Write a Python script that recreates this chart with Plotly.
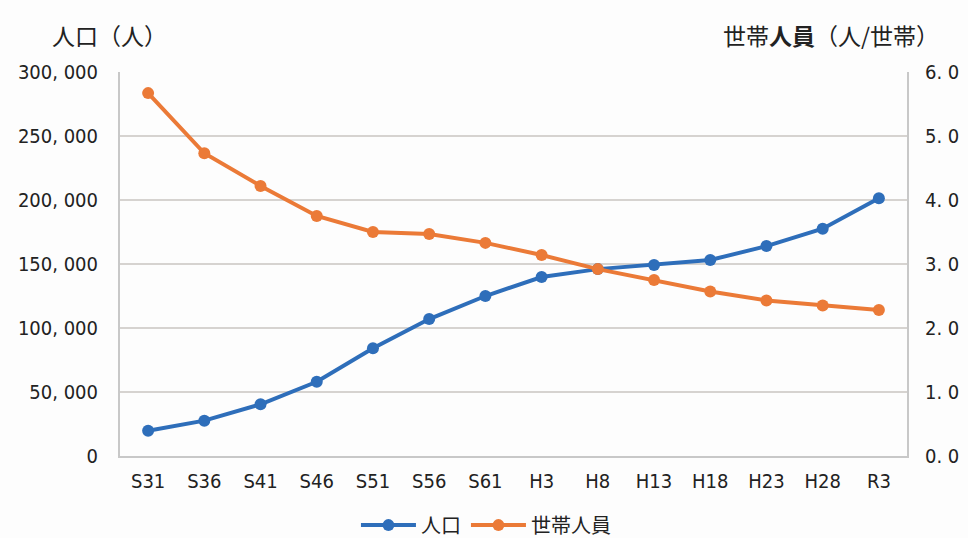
import plotly.graph_objects as go

categories = ["S31", "S36", "S41", "S46", "S51", "S56", "S61", "H3", "H8", "H13", "H18", "H23", "H28", "R3"]
population = [19800, 27600, 40400, 58000, 84100, 107000, 125000, 139800, 146000, 149200, 153100, 164000, 177600, 201300]
household = [5.67, 4.73, 4.22, 3.75, 3.50, 3.47, 3.33, 3.14, 2.92, 2.75, 2.57, 2.43, 2.35, 2.28]

left_ticks = [0, 50000, 100000, 150000, 200000, 250000, 300000]
left_labels = ["0", "50, 000", "100, 000", "150, 000", "200, 000", "250, 000", "300, 000"]
right_ticks = [0, 1, 2, 3, 4, 5, 6]
right_labels = ["0. 0", "1. 0", "2. 0", "3. 0", "4. 0", "5. 0", "6. 0"]

BLUE = "#2E6EBA"
ORANGE = "#EB7A37"
FONT = "DejaVu Sans Condensed, Liberation Sans Narrow, Noto Sans CJK JP, sans-serif"
JP = "Noto Sans CJK JP"

fig = go.Figure()
fig.add_trace(go.Scatter(
    x=categories, y=population, name="人口", mode="lines+markers",
    line=dict(color=BLUE, width=4), marker=dict(color=BLUE, size=12),
    yaxis="y"))
fig.add_trace(go.Scatter(
    x=categories, y=household, name="世帯人員", mode="lines+markers",
    line=dict(color=ORANGE, width=4), marker=dict(color=ORANGE, size=12),
    yaxis="y2"))

fig.update_layout(
    width=968, height=538,
    margin=dict(l=120, r=61, t=72, b=82, autoexpand=False),
    paper_bgcolor="#FDFDFD", plot_bgcolor="#FDFDFD",
    font=dict(family=FONT, size=20, color="#222222"),
    showlegend=True,
    legend=dict(orientation="h", x=0.465, xanchor="center", y=-0.18, yanchor="middle",
                font=dict(family=JP, size=20, color="#222222"),
                itemwidth=55, bgcolor="rgba(0,0,0,0)"),
    xaxis=dict(type="category", range=[-0.5, 13.5], showgrid=False,
               showline=True, linecolor="#C8C8C8", linewidth=2,
               ticks="", tickfont=dict(family=FONT, size=20), ticklabelstandoff=6),
    yaxis=dict(range=[0, 300000], tickvals=left_ticks, ticktext=left_labels,
               showgrid=True, gridcolor="#D6D3D0", gridwidth=2,
               showline=True, linecolor="#C8C8C8", linewidth=2,
               zeroline=False, ticks="", tickfont=dict(family=FONT, size=20),
               ticklabelstandoff=16),
    yaxis2=dict(range=[0, 6], tickvals=right_ticks, ticktext=right_labels,
                overlaying="y", side="right", showgrid=False,
                showline=True, linecolor="#C8C8C8", linewidth=2,
                zeroline=False, ticks="", tickfont=dict(family=FONT, size=20),
                ticklabelstandoff=12),
)

fig.add_annotation(text="人口（人）", xref="paper", yref="paper",
                   x=-0.089, y=1.096, xanchor="left", yanchor="middle",
                   showarrow=False, font=dict(family=JP, size=23, color="#222222"))
fig.add_annotation(text="世帯<b>人員</b>（人/世帯）", xref="paper", yref="paper",
                   x=1.043, y=1.096, xanchor="right", yanchor="middle",
                   showarrow=False, font=dict(family=JP, size=23, color="#222222"))

fig.write_html("out.html")
